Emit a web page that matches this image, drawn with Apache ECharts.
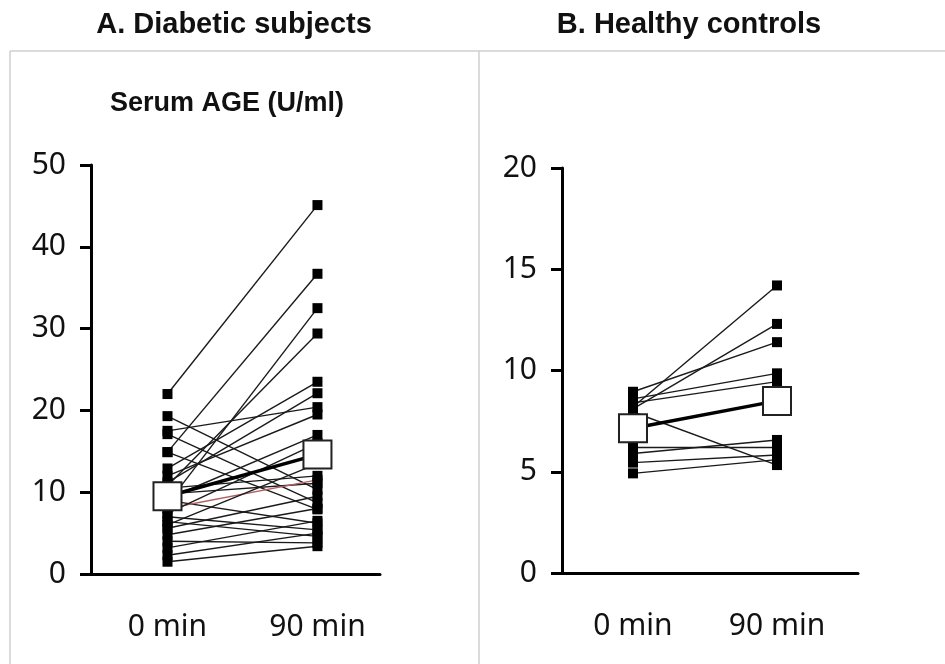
<!DOCTYPE html>
<html>
<head>
<meta charset="utf-8">
<script src="https://cdn.jsdelivr.net/npm/echarts@6/dist/echarts.min.js"></script>
<style>
html,body{margin:0;padding:0;background:#fff;}
#chart{width:945px;height:664px;}
</style>
</head>
<body>
<div id="chart"></div>
<script>
// ---- data ----
const categories = ['0 min', '90 min'];
const panelTitles = ['A. Diabetic subjects', 'B. Healthy controls'];
const yAxisTitle = 'Serum AGE (U/ml)';

// A. Diabetic subjects: individual values at 0 and 90 min
const diabetic0  = [22.0, 19.3, 17.5, 17.1, 14.9, 14.9, 12.9, 12.0, 11.2, 10.5, 10.8, 9.8, 9.0, 8.6, 8.0, 7.4, 7.0, 6.4, 5.6, 4.8, 4.0, 3.2, 2.3, 1.5, 6.0, 9.2];
const diabetic90 = [45.1, 10.3, 20.4, 8.7, 36.7, 7.9, 23.5, 19.5, 22.1, 12.0, 29.4, 11.1, 6.2, 32.5, 11.5, 16.0, 5.4, 4.6, 9.5, 8.0, 3.8, 6.5, 5.0, 3.4, 13.5, 17.0];
const diabeticMean = [9.5, 14.6];
const diabeticHighlight = 14; // the reddish line

// B. Healthy controls
const healthy0  = [8.95, 8.6, 8.4, 8.2, 8.1, 7.95, 6.2, 5.9, 5.45, 4.92];
const healthy90 = [11.4, 9.86, 9.45, 14.2, 12.3, 5.33, 6.2, 6.57, 5.83, 5.6];
const healthyMean = [7.15, 8.5];

const yTicksA = {min: 0, max: 50, interval: 10};
const yTicksB = {min: 0, max: 20, interval: 5};

// ---- chart ----
const chart = echarts.init(document.getElementById('chart'), null, {renderer: 'canvas'});
const FONT = '"Noto Sans", "DejaVu Sans", sans-serif';
const BOLD = '"Liberation Sans", Arial, sans-serif';

function xAxis(gridIndex, min, max) {
  return {
    type: 'value', gridIndex, min, max,
    axisLine: {show: true, onZero: false, lineStyle: {color: '#000', width: 3}},
    axisTick: {show: false},
    splitLine: {show: false},
    axisLabel: {
      customValues: [0, 1],
      formatter: v => categories[Math.round(v)],
      fontFamily: FONT, fontSize: 30, color: '#111', margin: 38
    }
  };
}
function yAxis(gridIndex, t) {
  return {
    type: 'value', gridIndex, min: t.min, max: t.max, interval: t.interval,
    axisLine: {show: true, onZero: false, lineStyle: {color: '#000', width: 3}},
    axisTick: {show: true, length: 11, lineStyle: {color: '#000', width: 3}},
    splitLine: {show: false},
    axisLabel: {fontFamily: FONT, fontSize: 30, color: '#111', margin: 25}
  };
}

const series = [];
function addPanel(idx, v0, v90, mean, highlight) {
  for (let i = 0; i < v0.length; i++) {
    series.push({
      type: 'line', xAxisIndex: idx, yAxisIndex: idx, silent: true,
      data: [[0, v0[i]], [1, v90[i]]],
      symbol: 'rect', symbolSize: 10,
      itemStyle: {color: '#000'},
      lineStyle: {color: i === highlight ? '#b06060' : '#1a1a1a', width: 1.4},
      z: 2
    });
  }
  series.push({
    type: 'line', xAxisIndex: idx, yAxisIndex: idx, silent: true,
    data: [[0, mean[0]], [1, mean[1]]],
    symbol: 'rect', symbolSize: 28,
    itemStyle: {color: '#fff', borderColor: '#222', borderWidth: 2},
    lineStyle: {color: '#000', width: 3.5},
    z: 5
  });
}
addPanel(0, diabetic0, diabetic90, diabeticMean, diabeticHighlight);
addPanel(1, healthy0, healthy90, healthyMean, -1);

chart.setOption({
  animation: false,
  backgroundColor: '#fff',
  title: [
    {text: panelTitles[0], left: 229, top: 5, textAlign: 'center',
     textStyle: {fontFamily: BOLD, fontWeight: 'bold', fontSize: 29, color: '#111'}},
    {text: panelTitles[1], left: 684, top: 5, textAlign: 'center',
     textStyle: {fontFamily: BOLD, fontWeight: 'bold', fontSize: 29, color: '#111'}},
    {text: yAxisTitle, left: 222, top: 85, textAlign: 'center',
     textStyle: {fontFamily: BOLD, fontWeight: 'bold', fontSize: 27, color: '#111'}}
  ],
  graphic: [
    {type: 'line', shape: {x1: 10, y1: 51, x2: 945, y2: 51}, style: {stroke: '#cfcfcf', lineWidth: 1.5}, silent: true},
    {type: 'line', shape: {x1: 10, y1: 51, x2: 10, y2: 664}, style: {stroke: '#cfcfcf', lineWidth: 1.5}, silent: true},
    {type: 'line', shape: {x1: 479, y1: 51, x2: 479, y2: 664}, style: {stroke: '#cfcfcf', lineWidth: 1.5}, silent: true}
  ],
  grid: [
    {left: 91, top: 165, width: 289, height: 409},
    {left: 562, top: 168, width: 296, height: 405}
  ],
  xAxis: [xAxis(0, -0.51, 1.417), xAxis(1, -0.493, 1.5625)],
  yAxis: [yAxis(0, yTicksA), yAxis(1, yTicksB)],
  series
});
</script>
</body>
</html>
